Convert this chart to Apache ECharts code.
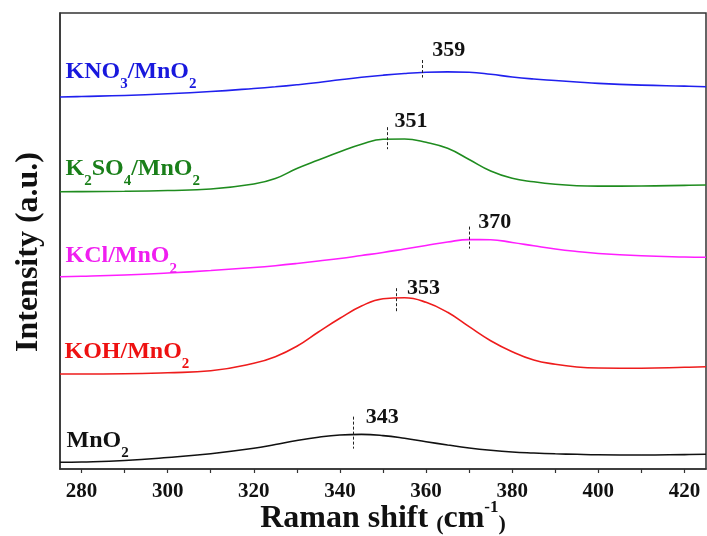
<!DOCTYPE html>
<html><head><meta charset="utf-8">
<script src="https://cdn.jsdelivr.net/npm/echarts@6/dist/echarts.min.js"></script>
<style>html,body{margin:0;padding:0;background:#fff}#c{width:707px;height:536px}</style>
</head><body><div id="c"></div>
<script>
// ---- data ----
const ramanShift = [275,280,290,300,310,320,325,330,335,340,345,350,355,360,365,370,375,380,385,390,395,400,410,420,425];
const intMnO2  = [6.7,7,8.5,11.5,15.3,20.7,24.5,28.5,31.8,34,34.6,33.4,30.7,27.3,24,21,18.7,17,16,15.2,14.7,14.3,14,14.4,14.7];
const intKOH   = [95,95,95.2,96.3,98.2,105.7,112.3,122.7,137,150.7,163,170.2,171.2,166.7,156.7,142.3,128.3,117.3,109,104.7,102,101,100.8,101.7,102.3];
const intKCl   = [192.3,192.7,194,196,198.5,201.5,203.3,205.5,208,210.5,213.5,216.5,220,223.5,227,229.4,229.3,226.5,223.2,220,217.5,215.5,213.2,212,211.7];
const intK2SO4 = [277.3,277.4,277.7,278.5,280,285,290.5,300.5,309,317.3,324.7,329.8,330,326.7,320.7,309.5,298,290.7,287.2,284.7,283.3,282.9,283,283.6,284];
const intKNO3  = [372,372.5,373.5,375.2,377.5,380.5,382.2,384.2,386.5,389.2,391.7,393.8,395.5,396.7,397.1,396.7,394.7,392,390,388.5,387,385.6,383.9,382.9,382.3];
const peakPositions = [343, 353, 370, 351, 359];
const seriesLabels = ['{m|MnO}{s|2}', '{m|KOH/MnO}{s|2}', '{m|KCl/MnO}{s|2}', '{m|K}{s|2}{m|SO}{s|4}{m|/MnO}{s|2}', '{m|KNO}{s|3}{m|/MnO}{s|2}'];
const xTickLabels = [280, 300, 320, 340, 360, 380, 400, 420];
const xTicks = [280, 290, 300, 310, 320, 330, 340, 350, 360, 370, 380, 390, 400, 410, 420];

// ---- styles ----
const lineColors = ['#111111', '#ee1c1c', '#ff1eff', '#1f8c1f', '#2020ee'];
const textColors = ['#111111', '#ee1111', '#f01ef0', '#1a7f1a', '#1818dd'];
const markerSpan = [[18, 14], [10, 13.5], [13, 9], [12, 10], [12.5, 5]];
const peakLabelPos = [[13.3, 12.5], [11.7, 11.5], [9.7, 7], [7.7, 5.5], [11, 2]];
const nameLabelPos = [[7, -33.5], [5, -33.5], [6, -32], [6, -34.5], [6, -36.5]];
const FONT = '"Liberation Serif", "Times New Roman", serif';

const allInt = [intMnO2, intKOH, intKCl, intK2SO4, intKNO3];

function valueAt(arr, x) {
  for (let i = 0; i < ramanShift.length - 1; i++) {
    if (x >= ramanShift[i] && x <= ramanShift[i + 1]) {
      const t = (x - ramanShift[i]) / (ramanShift[i + 1] - ramanShift[i]);
      return arr[i] + t * (arr[i + 1] - arr[i]);
    }
  }
  return arr[arr.length - 1];
}

const series = allInt.map((arr, k) => {
  const p = peakPositions[k];
  const v = valueAt(arr, p);
  const top = v + markerSpan[k][0];
  const bot = v - markerSpan[k][1];
  return {
    type: 'line',
    data: ramanShift.map((x, i) => [x, arr[i]]),
    showSymbol: false,
    smooth: 0.45,
    lineStyle: { color: lineColors[k], width: 1.6 },
    itemStyle: { color: lineColors[k] },
    silent: true,
    markLine: {
      silent: true,
      symbol: ['none', 'none'],
      label: { show: false },
      lineStyle: { type: [3, 2], color: '#222', width: 1 },
      data: [[{ coord: [p, top] }, { coord: [p, bot] }]]
    },
    markPoint: {
      silent: true,
      symbol: 'circle',
      symbolSize: 1,
      itemStyle: { color: 'rgba(0,0,0,0)' },
      data: [
        {
          coord: [p, top],
          label: {
            show: true, formatter: String(p),
            position: peakLabelPos[k], align: 'left', verticalAlign: 'bottom',
            fontFamily: FONT, fontWeight: 'bold', fontSize: 22, lineHeight: 22, color: '#111'
          }
        },
        {
          coord: [ramanShift[0], arr[0]],
          label: {
            show: true, formatter: seriesLabels[k],
            position: nameLabelPos[k], align: 'left', verticalAlign: 'top',
            rich: {
              m: { fontFamily: FONT, fontWeight: 'bold', fontSize: 24, lineHeight: 28, color: textColors[k], verticalAlign: 'top' },
              s: { fontFamily: FONT, fontWeight: 'bold', fontSize: 15, lineHeight: 32, color: textColors[k], verticalAlign: 'bottom' }
            }
          }
        }
      ]
    }
  };
});

const chart = echarts.init(document.getElementById('c'), null, { renderer: 'canvas' });
chart.setOption({
  animation: false,
  backgroundColor: '#fff',
  grid: { left: 60, right: 1, top: 13, bottom: 67, outerBoundsMode: 'none', containLabel: false, show: true, borderColor: '#333', borderWidth: 1.5, backgroundColor: 'transparent' },
  xAxis: {
    type: 'value', min: 275, max: 425,
    axisLine: { show: true, lineStyle: { color: '#333', width: 1.5 } },
    axisTick: { show: true, customValues: xTicks, length: 4, lineStyle: { color: '#333', width: 1.2 } },
    axisLabel: { customValues: xTickLabels, margin: 12, fontFamily: FONT, fontWeight: 'bold', fontSize: 21, color: '#111' },
    splitLine: { show: false },
    name: '{a|Raman shift }{p|(}{a|cm}{u|-1}{p|)}',
    nameLocation: 'middle', nameGap: 30, nameMoveOverlap: false,
    nameTextStyle: {
      rich: {
        a: { fontFamily: FONT, fontWeight: 'bold', fontSize: 32, lineHeight: 36, color: '#111', verticalAlign: 'bottom' },
        p: { fontFamily: FONT, fontWeight: 'bold', fontSize: 22, lineHeight: 26, color: '#111', verticalAlign: 'bottom' },
        u: { fontFamily: FONT, fontWeight: 'bold', fontSize: 17, lineHeight: 30, color: '#111', verticalAlign: 'top' }
      }
    }
  },
  yAxis: {
    type: 'value', min: 0, max: 456,
    axisLine: { show: true, lineStyle: { color: '#333', width: 1.5 } },
    axisTick: { show: false }, axisLabel: { show: false }, splitLine: { show: false },
    name: 'Intensity (a.u.)', nameLocation: 'middle', nameGap: 15, nameMoveOverlap: false,
    nameTextStyle: { fontFamily: FONT, fontWeight: 'bold', fontSize: 32, color: '#111', padding: [0, 22, 0, 0] }
  },
  series: series
});
</script>
</body></html>
